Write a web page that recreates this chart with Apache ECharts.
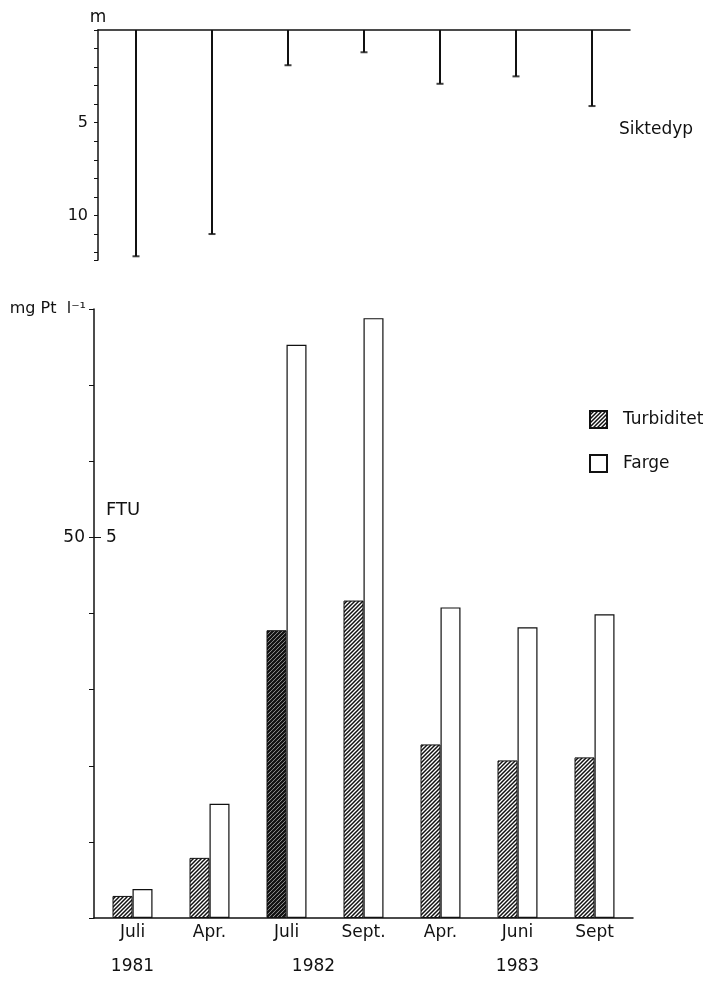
<!DOCTYPE html>
<html>
<head>
<meta charset="utf-8">
<script src="https://cdn.jsdelivr.net/npm/echarts@6/dist/echarts.min.js"></script>
<style>
  html, body { margin: 0; padding: 0; background: #fff; }
  #chart { width: 716px; height: 981px; }
</style>
</head>
<body>
<div id="chart"></div>
<script>
// sampling dates
const months = ['Juli', 'Apr.', 'Juli', 'Sept.', 'Apr.', 'Juni', 'Sept'];
const years = ['1981', '', '1982', '', '', '1983', ''];
// Siktedyp (m)
const siktedyp = [12.2, 11.0, 1.9, 1.2, 2.9, 2.5, 4.1];
// Turbiditet (FTU) and Farge (mg Pt l-1)
const turbiditet = [0.29, 0.79, 3.78, 4.17, 2.28, 2.07, 2.11];
const farge = [3.8, 15.0, 75.3, 78.8, 40.8, 38.2, 39.9];

const ink = '#111';
const font = 'DejaVu Sans';

// hatch pattern for the turbidity bars
function hatch(width) {
  const c = document.createElement('canvas');
  c.width = 4; c.height = 4;
  const ctx = c.getContext('2d');
  ctx.fillStyle = '#fff';
  ctx.fillRect(0, 0, 4, 4);
  ctx.strokeStyle = ink;
  ctx.lineWidth = width;
  ctx.beginPath();
  ctx.moveTo(-1, 1); ctx.lineTo(1, -1);
  ctx.moveTo(0, 4); ctx.lineTo(4, 0);
  ctx.moveTo(3, 5); ctx.lineTo(5, 3);
  ctx.stroke();
  return { image: c, repeat: 'repeat' };
}
const hatchLight = hatch(1.5);
const hatchDark = hatch(2.4);

const chart = echarts.init(document.getElementById('chart'));

const option = {
  animation: false,
  textStyle: { fontFamily: font, color: ink },
  title: [
    { text: 'Siktedyp', left: 619, top: 121, padding: 0,
      textStyle: { fontFamily: font, fontSize: 17, fontWeight: 'normal', color: ink } },
    { text: 'FTU', left: 106, top: 501, padding: 0,
      textStyle: { fontFamily: font, fontSize: 18, fontWeight: 'normal', color: ink } }
  ],
  legend: {
    data: ['Turbiditet', 'Farge'],
    orient: 'vertical',
    left: 589,
    top: 410,
    padding: 0,
    itemWidth: 17,
    itemHeight: 17,
    itemGap: 25,
    icon: 'rect',
    textStyle: { fontFamily: font, fontSize: 17, color: ink, padding: [0, 0, 0, 11] }
  },
  grid: [
    { left: 98, top: 30, width: 532, height: 230 },
    { left: 94, top: 309, width: 539, height: 609 }
  ],
  xAxis: [
    {
      gridIndex: 0,
      type: 'category',
      data: months,
      position: 'top',
      axisLine: { lineStyle: { color: ink, width: 1.5 } },
      axisTick: { show: false },
      axisLabel: { show: false }
    },
    {
      gridIndex: 1,
      type: 'category',
      data: months,
      axisLine: { lineStyle: { color: ink, width: 1.5 } },
      axisTick: {
        interval: (i) => i === 0 || i === 1 || i === 4,
        length: 8,
        lineStyle: { color: ink, width: 1.5 }
      },
      axisLabel: {
        interval: 0,
        margin: 6,
        lineHeight: 17,
        formatter: (v, i) => {
          let s = '{m|' + v + '}';
          if (years[i]) s += '\n\n{' + (i === 2 ? 'y2' : 'y') + '|' + years[i] + '}';
          return s;
        },
        rich: {
          m: { fontFamily: font, fontSize: 17, lineHeight: 17, color: ink },
          y: { fontFamily: font, fontSize: 17, lineHeight: 17, color: ink },
          y2: { fontFamily: font, fontSize: 17, lineHeight: 17, color: ink, padding: [0, 0, 0, 54] }
        }
      }
    }
  ],
  yAxis: [
    {
      gridIndex: 0,
      type: 'value',
      inverse: true,
      min: 0,
      max: 12.4,
      interval: 1,
      name: 'm',
      nameLocation: 'start',
      nameGap: 4,
      nameTextStyle: { fontFamily: font, fontSize: 17, color: ink },
      axisLine: { show: true, lineStyle: { color: ink, width: 1.5 } },
      axisTick: { show: true, length: 4, lineStyle: { color: ink } },
      axisLabel: {
        margin: 10,
        fontSize: 16,
        color: ink,
        formatter: (v) => (v === 5 || v === 10 ? String(v) : '')
      },
      splitLine: { show: false }
    },
    {
      gridIndex: 1,
      type: 'value',
      min: 0,
      max: 80,
      interval: 10,
      name: 'mg Pt  l\u207B\u00B9',
      nameLocation: 'end',
      nameGap: 0,
      nameTextStyle: {
        fontFamily: font, fontSize: 16, color: ink,
        align: 'right', verticalAlign: 'middle', padding: [0, 8, 0, 0]
      },
      axisLine: { show: true, lineStyle: { color: ink, width: 1.5 } },
      axisTick: { show: true, length: 5, lineStyle: { color: ink } },
      axisLabel: {
        margin: 9,
        fontSize: 17,
        color: ink,
        formatter: (v) => (v === 50 ? '50' : '')
      },
      splitLine: { show: false }
    },
    {
      gridIndex: 1,
      type: 'value',
      position: 'left',
      min: 0,
      max: 8,
      interval: 1,
      axisLine: { show: false },
      axisTick: { show: true, inside: true, length: 7, customValues: [5], lineStyle: { color: ink } },
      axisLabel: { inside: true, margin: 12, fontSize: 17, color: ink, customValues: [5] },
      splitLine: { show: false }
    }
  ],
  series: [
    {
      name: 'Siktedyp',
      type: 'bar',
      xAxisIndex: 0,
      yAxisIndex: 0,
      barWidth: 2,
      itemStyle: { color: ink },
      data: siktedyp
    },
    {
      name: 'Siktedyp-end',
      type: 'scatter',
      xAxisIndex: 0,
      yAxisIndex: 0,
      symbol: 'rect',
      symbolSize: [7, 2],
      itemStyle: { color: ink },
      data: siktedyp
    },
    {
      name: 'Turbiditet',
      type: 'bar',
      xAxisIndex: 1,
      yAxisIndex: 2,
      barWidth: 20,
      barGap: '0%',
      itemStyle: { color: hatchLight, borderColor: ink, borderWidth: 1 },
      data: turbiditet.map((v, i) => i === 2
        ? { value: v, itemStyle: { color: hatchDark } }
        : v)
    },
    {
      name: 'Farge',
      type: 'bar',
      xAxisIndex: 1,
      yAxisIndex: 1,
      barWidth: 20,
      barGap: '0%',
      itemStyle: { color: '#fff', borderColor: ink, borderWidth: 1.2 },
      data: farge
    }
  ]
};

chart.setOption(option);
</script>
</body>
</html>
